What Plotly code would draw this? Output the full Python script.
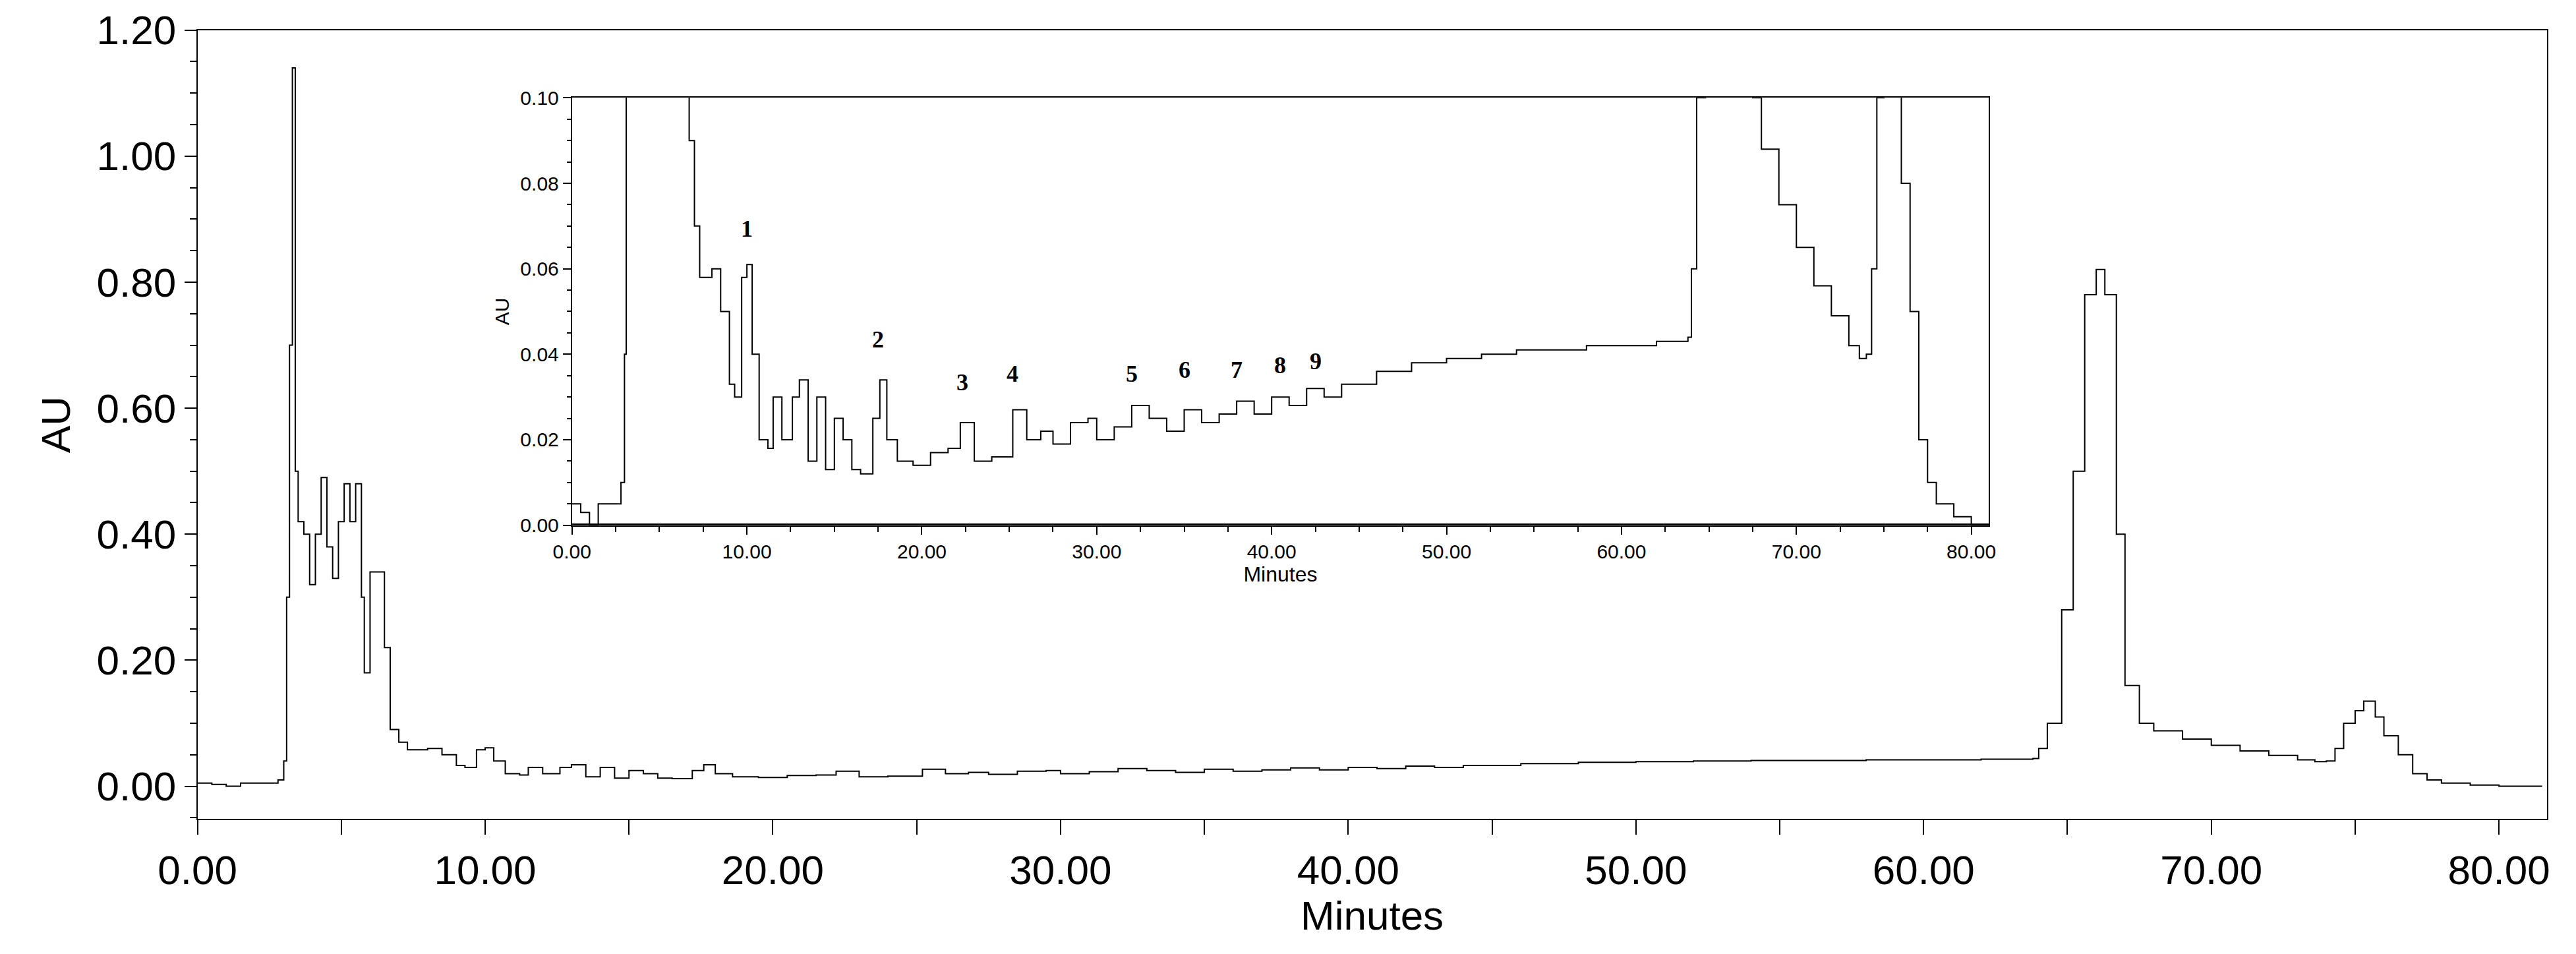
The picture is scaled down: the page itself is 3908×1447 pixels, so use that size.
import plotly.graph_objects as go

# chromatogram (minutes, AU)
t = [0, 0.5, 1.0, 1.5, 2.5, 2.8, 3.0, 3.1, 3.2, 3.3, 3.4, 3.5, 3.7, 3.9, 4.1, 4.3, 4.5, 4.7, 4.9,
     5.1, 5.3, 5.5, 5.7, 5.8, 6.0, 6.3, 6.5, 6.7, 7.0, 7.3, 8.0, 8.5, 9.0, 9.3, 9.7, 10.0, 10.3,
     10.7, 11.2, 11.5, 12.0, 12.6, 13.0, 13.5, 14.0, 14.5, 15.0, 15.5, 16.0, 16.5, 17.2, 17.6,
     18.0, 18.6, 19.5, 20.5, 21.5, 22.2, 23.0, 24.0, 25.2, 26.0, 26.8, 27.5, 28.5, 29.5, 30.0,
     31.0, 32.0, 33.0, 34.0, 35.0, 36.0, 37.0, 38.0, 39.0, 40.0, 41.0, 42.0, 43.0, 44.0, 46.0,
     48.0, 50.0, 52.0, 54.0, 56.0, 58.0, 60.0, 62.0, 63.8, 64.0, 64.3, 64.8, 65.2, 65.6, 66.0,
     66.3, 66.7, 67.0, 67.5, 68.0, 69.0, 70.0, 71.0, 72.0, 73.0, 73.6, 74.0, 74.3, 74.6, 75.0,
     75.3, 75.7, 76.0, 76.5, 77.0, 77.5, 78.0, 79.0, 80.0, 81.5]
au = [0.005, 0.003, 0.0, 0.005, 0.005, 0.01, 0.04, 0.3, 0.7, 1.14, 0.5, 0.42, 0.40, 0.32, 0.40,
      0.49, 0.38, 0.33, 0.42, 0.48, 0.42, 0.48, 0.30, 0.18, 0.34, 0.34, 0.22, 0.09, 0.07, 0.058,
      0.06, 0.05, 0.033, 0.03, 0.058, 0.061, 0.04, 0.02, 0.018, 0.03, 0.02, 0.03, 0.034, 0.015,
      0.03, 0.013, 0.025, 0.02, 0.013, 0.012, 0.025, 0.034, 0.02, 0.015, 0.014, 0.017, 0.018,
      0.024, 0.015, 0.016, 0.027, 0.02, 0.022, 0.019, 0.024, 0.025, 0.02, 0.023, 0.028, 0.025,
      0.022, 0.027, 0.024, 0.026, 0.029, 0.026, 0.030, 0.028, 0.032, 0.030, 0.033, 0.036, 0.038,
      0.039, 0.040, 0.041, 0.041, 0.042, 0.042, 0.043, 0.044, 0.06, 0.1, 0.28, 0.5, 0.78, 0.82,
      0.78, 0.4, 0.16, 0.1, 0.088, 0.075, 0.065, 0.056, 0.049, 0.042, 0.039, 0.04, 0.06, 0.1,
      0.12, 0.135, 0.11, 0.08, 0.05, 0.02, 0.01, 0.005, 0.002, 0.0, 0.0]

peak_labels = ["1", "2", "3", "4", "5", "6", "7", "8", "9"]
peak_t = [10.0, 17.5, 22.3, 25.2, 32.0, 35.0, 38.0, 40.5, 42.5]
peak_au = [0.066, 0.040, 0.030, 0.032, 0.032, 0.033, 0.033, 0.034, 0.035]

black = "black"
fig = go.Figure()
fig.add_trace(go.Scatter(x=t, y=au, mode="lines", line=dict(color=black, width=2, shape="hv"),
                         showlegend=False))
fig.add_trace(go.Scatter(x=t, y=au, mode="lines", line=dict(color=black, width=2, shape="hv"),
                         xaxis="x2", yaxis="y2", showlegend=False))

for lab, x, y in zip(peak_labels, peak_t, peak_au):
    fig.add_annotation(text="<b>%s</b>" % lab, x=x, y=y, xref="x2", yref="y2", showarrow=False,
                       yanchor="bottom", font=dict(family="Liberation Serif", size=36, color=black))

axis_common = dict(showline=True, linecolor=black, linewidth=2, mirror=True, showgrid=False,
                   zeroline=False, ticks="outside", tickcolor=black, color=black, automargin=False)

fig.update_layout(
    width=3908, height=1447, plot_bgcolor="white", paper_bgcolor="white",
    margin=dict(l=0, r=0, t=0, b=0),
    font=dict(family="Liberation Sans", color=black),
    xaxis=dict(domain=[0.0746, 0.9866], range=[0, 81.66], tickvals=list(range(0, 81, 10)),
               ticktext=["%.2f" % v for v in range(0, 81, 10)], tickfont=dict(size=62),
               ticklen=22, tickwidth=2,
               minor=dict(dtick=5, ticks="outside", ticklen=22, tickcolor=black),
               title=dict(text="Minutes", font=dict(size=62), standoff=10), **axis_common),
    yaxis=dict(domain=[0.147, 0.974], range=[-0.052, 1.2], tickvals=[0, 0.2, 0.4, 0.6, 0.8, 1.0, 1.2],
               tickformat=".2f", tickfont=dict(size=62), ticklen=18, tickwidth=2,
               minor=dict(dtick=0.05, ticks="outside", ticklen=10, tickcolor=black),
               title=dict(text="AU", font=dict(size=62), standoff=20), **axis_common),
    xaxis2=dict(domain=[0.22, 0.77], range=[0, 81.0], anchor="y2", tickvals=list(range(0, 81, 10)),
                ticktext=["%.2f" % v for v in range(0, 81, 10)], tickfont=dict(size=30),
                ticklen=12, tickwidth=2,
                minor=dict(dtick=2.5, ticks="outside", ticklen=8, tickcolor=black),
                title=dict(text="Minutes", font=dict(size=32), standoff=8), **axis_common),
    yaxis2=dict(domain=[0.455, 0.903], range=[0, 0.1], anchor="x2", dtick=0.02, tickformat=".2f",
                tickfont=dict(size=30), ticklen=12, tickwidth=2,
                minor=dict(dtick=0.005, ticks="outside", ticklen=6, tickcolor=black),
                title=dict(text="AU", font=dict(size=30), standoff=8), **axis_common),
)
fig.add_shape(type="line", xref="x2", yref="y2", x0=0, x1=81, y0=0, y1=0,
              line=dict(color=black, width=5))

fig.write_html("out.html")
